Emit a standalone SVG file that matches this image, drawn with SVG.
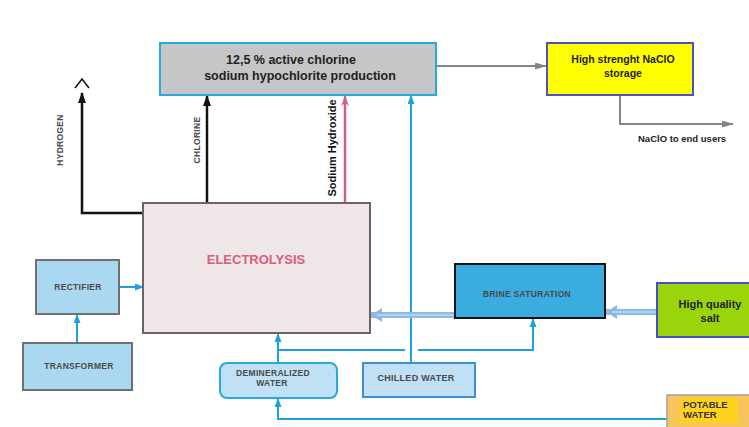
<svg xmlns="http://www.w3.org/2000/svg" width="749" height="427" viewBox="0 0 749 427">
<style>
.t{font-family:"Liberation Sans",Arial,sans-serif;font-weight:bold}
.sm{font-size:8.5px;fill:#4a4a4a;letter-spacing:0.3px}
.blue{stroke:#1ea0e0;stroke-width:2;fill:none}
</style>
<defs>
<marker id="ab" markerUnits="userSpaceOnUse" markerWidth="11" markerHeight="9" refX="10" refY="4" orient="auto"><path d="M0,0 L11,4 L0,8 z" fill="#111"/></marker>
<marker id="au" markerUnits="userSpaceOnUse" markerWidth="9" markerHeight="8" refX="8" refY="3.5" orient="auto"><path d="M0,0 L9,3.5 L0,7 z" fill="#1ea0e0"/></marker>
<marker id="ag" markerUnits="userSpaceOnUse" markerWidth="12" markerHeight="8" refX="11" refY="3.5" orient="auto"><path d="M0,0 L12,3.5 L0,7 z" fill="#858585"/></marker>
<marker id="ap" markerUnits="userSpaceOnUse" markerWidth="11" markerHeight="9" refX="10" refY="4" orient="auto"><path d="M0,0 L10,4 L0,8 L3,4 z" fill="#c8628e"/></marker>
<marker id="at" markerUnits="userSpaceOnUse" markerWidth="12" markerHeight="14" refX="11" refY="7" orient="auto"><path d="M0,0 L11,7 L0,14 z" fill="#8db9e4"/></marker>
</defs>
<rect width="749" height="427" fill="#fff"/>

<g id="connectors">
<polyline points="143,213 82,213 82,93" fill="none" stroke="#111" stroke-width="2.5" marker-end="url(#ab)"/>
<polyline points="75,88 82,79 89,88" fill="none" stroke="#111" stroke-width="1.5"/>
<line x1="207" y1="203" x2="207" y2="96" stroke="#111" stroke-width="2.5" marker-end="url(#ab)"/>
<line x1="345" y1="203" x2="345" y2="96" stroke="#c8628e" stroke-width="2.5" marker-end="url(#ap)"/>
<line x1="411" y1="363" x2="411" y2="96" class="blue" marker-end="url(#au)"/>
<line x1="436" y1="66" x2="546" y2="66" stroke="#858585" stroke-width="2" marker-end="url(#ag)"/>
<polyline points="620,95 620,124 733,124" fill="none" stroke="#858585" stroke-width="2" marker-end="url(#ag)"/>
<line x1="119" y1="287" x2="143" y2="287" class="blue" marker-end="url(#au)"/>
<line x1="77" y1="343" x2="77" y2="315" class="blue" marker-end="url(#au)"/>
<line x1="278" y1="363" x2="278" y2="334" class="blue" marker-end="url(#au)"/>
<polyline points="278,350 405,350" class="blue"/>
<polyline points="418,350 533,350 533,319" class="blue" marker-end="url(#au)"/>
<polyline points="667,419 278,419 278,399" class="blue" marker-end="url(#au)"/>
<line x1="657" y1="312" x2="606" y2="312" stroke="#8db9e4" stroke-width="6" marker-end="url(#at)"/>
<line x1="657" y1="312" x2="612" y2="312" stroke="#b4d2ee" stroke-width="2"/>
<line x1="455" y1="315" x2="371" y2="315" stroke="#8db9e4" stroke-width="6" marker-end="url(#at)"/>
<line x1="455" y1="315" x2="377" y2="315" stroke="#b4d2ee" stroke-width="2"/>
</g>

<g id="production">
<rect x="160" y="43" width="276" height="52" fill="#c6c6c6" stroke="#29a8e0" stroke-width="2"/>
<text class="t" x="291" y="64" font-size="12.5" fill="#222" text-anchor="middle">12,5 % active chlorine</text>
<text class="t" x="300" y="80" font-size="12.5" fill="#222" text-anchor="middle">sodium hypochlorite production</text>
</g>

<g id="storage">
<rect x="547" y="43" width="146" height="52" fill="#ffff00" stroke="#5050c0" stroke-width="2"/>
<text class="t" x="623" y="63" font-size="10.5" fill="#222" text-anchor="middle">High strenght NaClO</text>
<text class="t" x="623" y="77" font-size="10.5" fill="#222" text-anchor="middle">storage</text>
</g>

<g id="end-users">
<text class="t" x="638" y="142" font-size="9.5" fill="#222">NaClO to end users</text>
</g>

<g id="hydrogen">
<text class="t sm" transform="translate(63,140) rotate(-90)" text-anchor="middle">HYDROGEN</text>
</g>
<g id="chlorine">
<text class="t sm" transform="translate(200,140) rotate(-90)" text-anchor="middle">CHLORINE</text>
</g>
<g id="sodium-hydroxide">
<text class="t" transform="translate(336,148) rotate(-90)" font-size="11" fill="#111" text-anchor="middle">Sodium Hydroxide</text>
</g>

<g id="electrolysis">
<rect x="143" y="203" width="227" height="130" fill="#efe6e8" stroke="#706262" stroke-width="2"/>
<text class="t" x="256" y="264" font-size="13" fill="#d9607a" text-anchor="middle">ELECTROLYSIS</text>
</g>

<g id="rectifier">
<rect x="36" y="260" width="83" height="54" fill="#aad8f0" stroke="#707070" stroke-width="2"/>
<text class="t sm" x="78" y="290" text-anchor="middle">RECTIFIER</text>
</g>

<g id="transformer">
<rect x="23" y="343" width="109" height="47" fill="#aad8f0" stroke="#707070" stroke-width="2"/>
<text class="t sm" x="79" y="369" text-anchor="middle">TRANSFORMER</text>
</g>

<g id="brine">
<rect x="455" y="264" width="150" height="54" fill="#3aace0" stroke="#111" stroke-width="2"/>
<text class="t sm" x="527" y="297" text-anchor="middle" fill="#3a4a5a">BRINE  SATURATION</text>
</g>

<g id="salt">
<rect x="657" y="283" width="98" height="54" fill="#9ad40a" stroke="#4a4acd" stroke-width="2"/>
<text class="t" x="710" y="308" font-size="11" fill="#222" text-anchor="middle">High quality</text>
<text class="t" x="710" y="322" font-size="11" fill="#222" text-anchor="middle">salt</text>
</g>

<g id="demineralized">
<rect x="220" y="363" width="117" height="35" rx="7" fill="#bfe0f5" stroke="#29a8e0" stroke-width="2"/>
<text class="t sm" x="273" y="376" text-anchor="middle">DEMINERALIZED</text>
<text class="t sm" x="272" y="386" text-anchor="middle">WATER</text>
</g>

<g id="chilled">
<rect x="363" y="363" width="112" height="34" fill="#bfe0f5" stroke="#3a90d0" stroke-width="2"/>
<text class="t" x="416" y="381" font-size="9" fill="#4a4a4a" text-anchor="middle" letter-spacing="0.3">CHILLED WATER</text>
</g>

<g id="potable">
<rect x="667" y="395" width="90" height="40" fill="#f7c55a" stroke="#a0a0a0" stroke-width="1.5"/>
<rect x="680" y="398" width="58" height="25" fill="#ffd21f"/>
<text class="t" x="683" y="408" font-size="9.5" fill="#333">POTABLE</text>
<text class="t" x="683" y="418" font-size="9.5" fill="#333">WATER</text>
</g>
</svg>
